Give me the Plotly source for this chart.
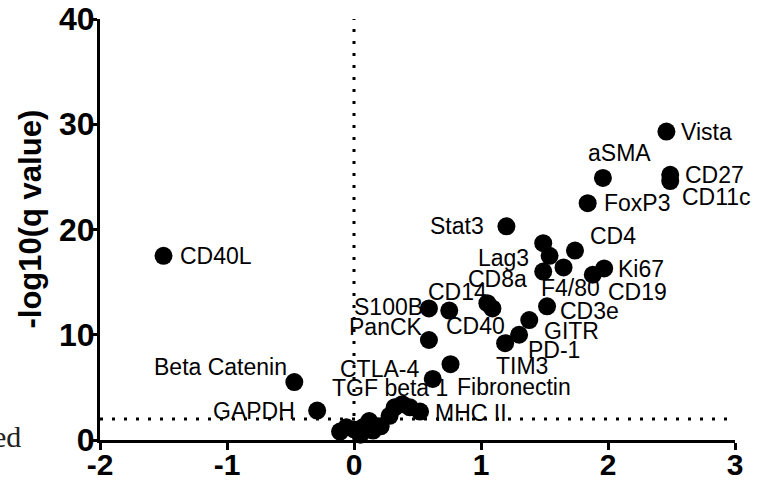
import plotly.graph_objects as go

# ---- data ----
names = ["Vista", "aSMA", "CD27", "CD11c", "FoxP3", "Stat3", "CD4", "CD40L", "Lag3",
         "", "", "F4/80", "Ki67", "CD19", "CD3e", "GITR", "PD-1", "TIM3", "CD8a",
         "CD40", "CD14", "S100B", "PanCK", "CTLA-4", "Fibronectin", "Beta Catenin",
         "GAPDH", "MHC II", "TGF beta 1",
         "", "", "", "", "", "", "", "", "", "", ""]
log2fc = [2.46, 1.96, 2.49, 2.49, 1.84, 1.20, 1.74, -1.50, 1.54,
          1.49, 1.49, 1.65, 1.97, 1.88, 1.52, 1.38, 1.30, 1.19, 1.05,
          1.09, 0.75, 0.59, 0.59, 0.76, 0.62, -0.47,
          -0.29, 0.52, 0.32,
          0.38, 0.44, 0.28, 0.21, 0.12, 0.07, 0.00, -0.06, -0.11, 0.05, 0.15]
neglogq = [29.3, 24.9, 25.2, 24.6, 22.5, 20.3, 18.0, 17.5, 17.5,
           18.7, 16.0, 16.4, 16.3, 15.7, 12.7, 11.4, 10.0, 9.2, 13.0,
           12.5, 12.3, 12.5, 9.5, 7.2, 5.8, 5.5,
           2.8, 2.7, 3.1,
           3.4, 3.1, 2.3, 1.3, 1.8, 1.2, 1.0, 1.2, 0.8, 0.5, 0.9]
x_ticks = [-2, -1, 0, 1, 2, 3]
y_ticks = [0, 10, 20, 30, 40]
q_threshold = 2

# label placement (anchor, x pixel shift, y pixel shift)
label_place = {
    "Vista": ("left", 13, 0), "aSMA": ("center", 17, 25), "CD27": ("left", 13, 0),
    "CD11c": ("left", 10, -16), "FoxP3": ("left", 14, 0), "Stat3": ("right", -20, 0),
    "CD4": ("left", 13, 15), "CD40L": ("left", 14, 0), "Lag3": ("right", -19, -2),
    "F4/80": ("center", 7, -21), "Ki67": ("left", 12, -1), "CD19": ("left", 13, -17),
    "CD3e": ("left", 11, -5), "GITR": ("left", 13, -11), "PD-1": ("left", 7, -15),
    "TIM3": ("center", 17, -23), "CD8a": ("center", 10, 24), "CD40": ("center", -17, -18),
    "CD14": ("center", 8, 19), "S100B": ("right", -4, 1), "PanCK": ("right", -4, 13),
    "CTLA-4": ("right", -30, -5), "Fibronectin": ("left", 22, -8),
    "Beta Catenin": ("right", -5, 15), "GAPDH": ("right", -20, 0),
    "MHC II": ("left", 13, -1), "TGF beta 1": ("center", -5, 19),
}

fig = go.Figure()
fig.add_trace(go.Scatter(
    x=log2fc, y=neglogq, mode="markers",
    marker=dict(size=18, color="black", line=dict(width=0)),
    hoverinfo="skip", showlegend=False, cliponaxis=False))

annos = []
for n, xv, yv in zip(names, log2fc, neglogq):
    if not n:
        continue
    anc, dx, dy = label_place[n]
    annos.append(dict(x=xv, y=yv, xref="x", yref="y", text=n, showarrow=False,
                      xanchor=anc, yanchor="middle", xshift=dx, yshift=dy,
                      font=dict(family="Liberation Sans, Arial", size=23, color="black")))

annos.append(dict(x=-0.11, y=0.524, xref="paper", yref="paper", text="-log10(q value)",
                  showarrow=False, textangle=-90, xanchor="center", yanchor="middle",
                  font=dict(family="Liberation Sans, Arial", size=31, color="black",
                            weight="bold")))
annos.append(dict(x=-0.1213, y=0.008, xref="paper", yref="paper", text="ed",
                  showarrow=False, xanchor="right", yanchor="middle",
                  font=dict(family="Liberation Serif, serif", size=30, color="#222")))

shapes = [
    dict(type="line", xref="x", yref="y", x0=0, x1=0, y0=0, y1=40,
         line=dict(color="black", width=3, dash="3px,9px")),
    dict(type="line", xref="x", yref="y", x0=-2, x1=3, y0=q_threshold, y1=q_threshold,
         line=dict(color="black", width=3, dash="3px,9px")),
]

xtickfont = dict(family="Liberation Sans, Arial", size=30, color="black", weight="bold")
ytickfont = dict(family="Liberation Sans, Arial", size=32, color="black", weight="bold")
fig.update_layout(
    width=769, height=483,
    margin=dict(l=100, r=34, t=19, b=43, autoexpand=False),
    paper_bgcolor="white", plot_bgcolor="white",
    annotations=annos, shapes=shapes,
    xaxis=dict(range=[-2, 3], tickvals=x_ticks, ticktext=[str(v) for v in x_ticks],
               showgrid=False, zeroline=False, showline=True, linecolor="black",
               linewidth=3, ticks="outside", ticklen=7, tickwidth=3, tickcolor="black",
               tickfont=xtickfont, automargin=False, ticklabelstandoff=-11),
    yaxis=dict(range=[0, 40], tickvals=y_ticks, ticktext=[str(v) for v in y_ticks],
               showgrid=False, zeroline=False, showline=True, linecolor="black",
               linewidth=3, ticks="outside", ticklen=7, tickwidth=3, tickcolor="black",
               tickfont=ytickfont, automargin=False, ticklabelstandoff=-11),
)
fig.write_html("out.html")
